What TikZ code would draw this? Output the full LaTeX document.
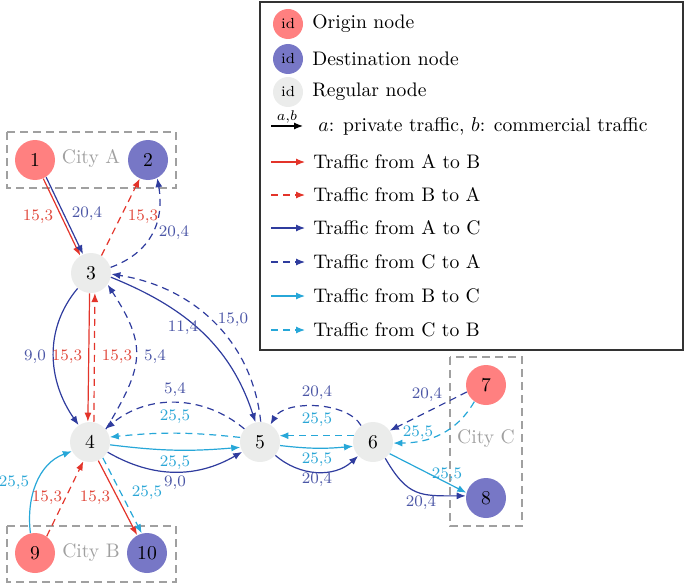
\documentclass[tikz,border=0pt]{standalone}
\usetikzlibrary{arrows.meta}
\definecolor{cred}{HTML}{E3342A}
\definecolor{cblue}{HTML}{2F3C9E}
\definecolor{ccyan}{HTML}{27A7D8}
\definecolor{lred}{HTML}{E0473A}
\definecolor{lblue}{HTML}{4B56A6}
\definecolor{lcyan}{HTML}{2AA6D6}
\definecolor{corig}{HTML}{FF8080}
\definecolor{cdest}{HTML}{7777C6}
\definecolor{creg}{HTML}{EBECEB}
\definecolor{cgray}{HTML}{A0A0A0}
\begin{document}
\begin{tikzpicture}[x=0.5pt,y=0.5pt,
  every node/.style={font=\fontsize{9.8}{11}\selectfont},
  vtx/.style={circle, minimum size=20pt, inner sep=0pt},
  org/.style={vtx, fill=corig},
  dst/.style={vtx, fill=cdest},
  rgl/.style={vtx, fill=creg},
  lg/.style={circle, minimum size=15pt, inner sep=0pt, font=\fontsize{7.3}{8}\selectfont},
  edge/.style={line width=0.6pt, -{Latex[length=4.5pt,width=3.5pt]}},
  dsh/.style={dash pattern=on 3.5pt off 2.5pt},
  AB/.style={edge, color=cred},
  BA/.style={edge, color=cred, dsh},
  AC/.style={edge, color=cblue},
  CA/.style={edge, color=cblue, dsh},
  BC/.style={edge, color=ccyan},
  CB/.style={edge, color=ccyan, dsh},
  lab/.style={font=\fontsize{8}{9}\selectfont, inner sep=0.5pt},
  lr/.style={lab, text=lred},
  lb/.style={lab, text=lblue},
  lc/.style={lab, text=lcyan},
  city/.style={draw=cgray, dash pattern=on 4pt off 2.5pt, line width=0.6pt},
  citytxt/.style={text=cgray},
  legtxt/.style={anchor=west, inner sep=0pt},
]
\useasboundingbox (0,0) rectangle (685,-583);

% city boxes
\draw[city] (7,-132) rectangle (176,-188);
\draw[city] (7,-526) rectangle (176,-582);
\draw[city] (450,-357) rectangle (522,-526);
\node[citytxt] (ca) at (91,-158) {City A};
\node[citytxt] (cb) at (91,-553) {City B};
\node[citytxt] (cc) at (486,-439) {City C};

% nodes
\node[org] (n1) at (35,-160) {1};
\node[dst] (n2) at (148,-160) {2};
\node[rgl] (n3) at (91,-273) {3};
\node[rgl] (n4) at (90,-442) {4};
\node[rgl] (n5) at (260,-442) {5};
\node[rgl] (n6) at (373,-442) {6};
\node[org] (n7) at (486,-385) {7};
\node[dst] (n8) at (486,-498) {8};
\node[org] (n9) at (35,-553) {9};
\node[dst] (n10) at (147,-553) {10};

% edges 1-3, 3-2
\draw[AB] (n1.-66) -- (n3.122);
\draw[AC] (n1.-57) -- (n3.113);
\draw[BA] (n3.59) -- (n2.-114);
\draw[CA] (n3.16) to[out=20,in=-80,looseness=1.1] (n2.-63);
% 3-4
\draw[AC] (n3.-131) to[out=-130,in=125] (n4.124);
\draw[AB] (n3.-94) -- (n4.96);
\draw[BA] (n4.79) -- (n3.-79);
\draw[CA] (n4.39) to[out=59,in=-57,looseness=1.3] (n3.-35);
% 3-5
\draw[AC] (n3.-12) to[out=-22,in=108] (n5.103);
\draw[CA] (n5.88) to[out=96,in=-9] (n3.-3);
% 4-5
\draw[CA] (n5.140) to[out=140,in=40] (n4.40);
\draw[CB] (n5.167) to[bend right=6] (n4.14);
\draw[BC] (n4.-8) to[bend right=6] (n5.-165);
\draw[AC] (n4.-30) to[out=-30,in=-150] (n5.-151);
% 5-6
\draw[CA] (n6.126) to[out=120,in=60,looseness=0.8] (n5.59);
\draw[CB] (n6.162) -- (n5.18);
\draw[BC] (n5.-10) to[bend right=6] (n6.-168);
\draw[AC] (n5.-41) to[out=-41,in=-137] (n6.-137);
% 6-7-8
\draw[CA] (n7.200) -- (n6.34);
\draw[CB] (n7.-125) to[out=-120,in=0] (n6.-3);
\draw[BC] (n6.-35) -- (n8.165);
\draw[AC] (n6.-53) to[out=-60,in=180,looseness=1.3] (n8.174);
% 4-9-10
\draw[AB] (n4.-66) -- (n10.119);
\draw[CB] (n4.-51) -- (n10.105);
\draw[BC] (n9.103) to[out=97,in=200] (n4.-153);
\draw[BA] (n9.55) -- (n4.-109);

% labels
\node[lr] (e1) at (38,-217) {15,3};
\node[lb] (e2) at (87,-214) {20,4};
\node[lr] (e3) at (143,-217) {15,3};
\node[lb] (e4) at (174,-233) {20,4};
\node[lb] (e5) at (35,-357) {9,0};
\node[lr] (e6) at (67,-357) {15,3};
\node[lr] (e7) at (117,-357) {15,3};
\node[lb] (e8) at (155,-357) {5,4};
\node[lb] (e9) at (183,-328) {11,4};
\node[lb] (e10) at (233,-320) {15,0};
\node[lb] (e11) at (175,-390) {5,4};
\node[lc] (e12) at (175,-417) {25,5};
\node[lc] (e13) at (175,-463) {25,5};
\node[lb] (e14) at (175,-483) {9,0};
\node[lb] (e15) at (317,-393) {20,4};
\node[lc] (e16) at (317,-420) {25,5};
\node[lc] (e17) at (317,-460) {25,5};
\node[lb] (e18) at (317,-480) {20,4};
\node[lb] (e19) at (427,-395) {20,4};
\node[lc] (e20) at (418,-433) {25,5};
\node[lc] (e21) at (447,-475) {25,5};
\node[lb] (e22) at (421,-503) {20,4};
\node[lr] (e23) at (95,-498) {15,3};
\node[lc] (e24) at (147,-493) {25,5};
\node[lc] (e25) at (14,-483) {25,5};
\node[lr] (e26) at (47,-498) {15,3};

% legend
\draw[line width=0.75pt, draw=black!80] (260,-2) rectangle (683,-350);
\node[lg, fill=corig] (g1) at (288,-24) {id};
\node[legtxt] (t1) at (312,-24) {Origin node};
\node[lg, fill=cdest] (g2) at (288,-59) {id};
\node[legtxt] (t2) at (312,-59) {Destination node};
\node[lg, fill=creg] (g3) at (288,-92) {id};
\node[legtxt] (t3) at (312,-92) {Regular node};
\coordinate (a0) at (271,-126); \coordinate (b0) at (303,-126);
\draw[edge, black] (a0) -- (b0) node[midway, above=0.5pt, font=\fontsize{7}{8}\selectfont, inner sep=0.5pt] (ab) {$a{,}b$};
\node[legtxt] (t4) at (318,-126) {$a$: private traffic, $b$: commercial traffic};
\coordinate (a1) at (271,-162); \coordinate (b1) at (305,-162);
\draw[AB] (a1) -- (b1);
\node[legtxt] (t5) at (313,-162) {Traffic from A to B};
\coordinate (a2) at (271,-195); \coordinate (b2) at (305,-195);
\draw[BA] (a2) -- (b2);
\node[legtxt] (t6) at (313,-195) {Traffic from B to A};
\coordinate (a3) at (271,-228); \coordinate (b3) at (305,-228);
\draw[AC] (a3) -- (b3);
\node[legtxt] (t7) at (313,-228) {Traffic from A to C};
\coordinate (a4) at (271,-262); \coordinate (b4) at (305,-262);
\draw[CA] (a4) -- (b4);
\node[legtxt] (t8) at (313,-262) {Traffic from C to A};
\coordinate (a5) at (271,-296); \coordinate (b5) at (305,-296);
\draw[BC] (a5) -- (b5);
\node[legtxt] (t9) at (313,-296) {Traffic from B to C};
\coordinate (a6) at (271,-330); \coordinate (b6) at (305,-330);
\draw[CB] (a6) -- (b6);
\node[legtxt] (t10) at (313,-330) {Traffic from C to B};
\end{tikzpicture}
\end{document}
